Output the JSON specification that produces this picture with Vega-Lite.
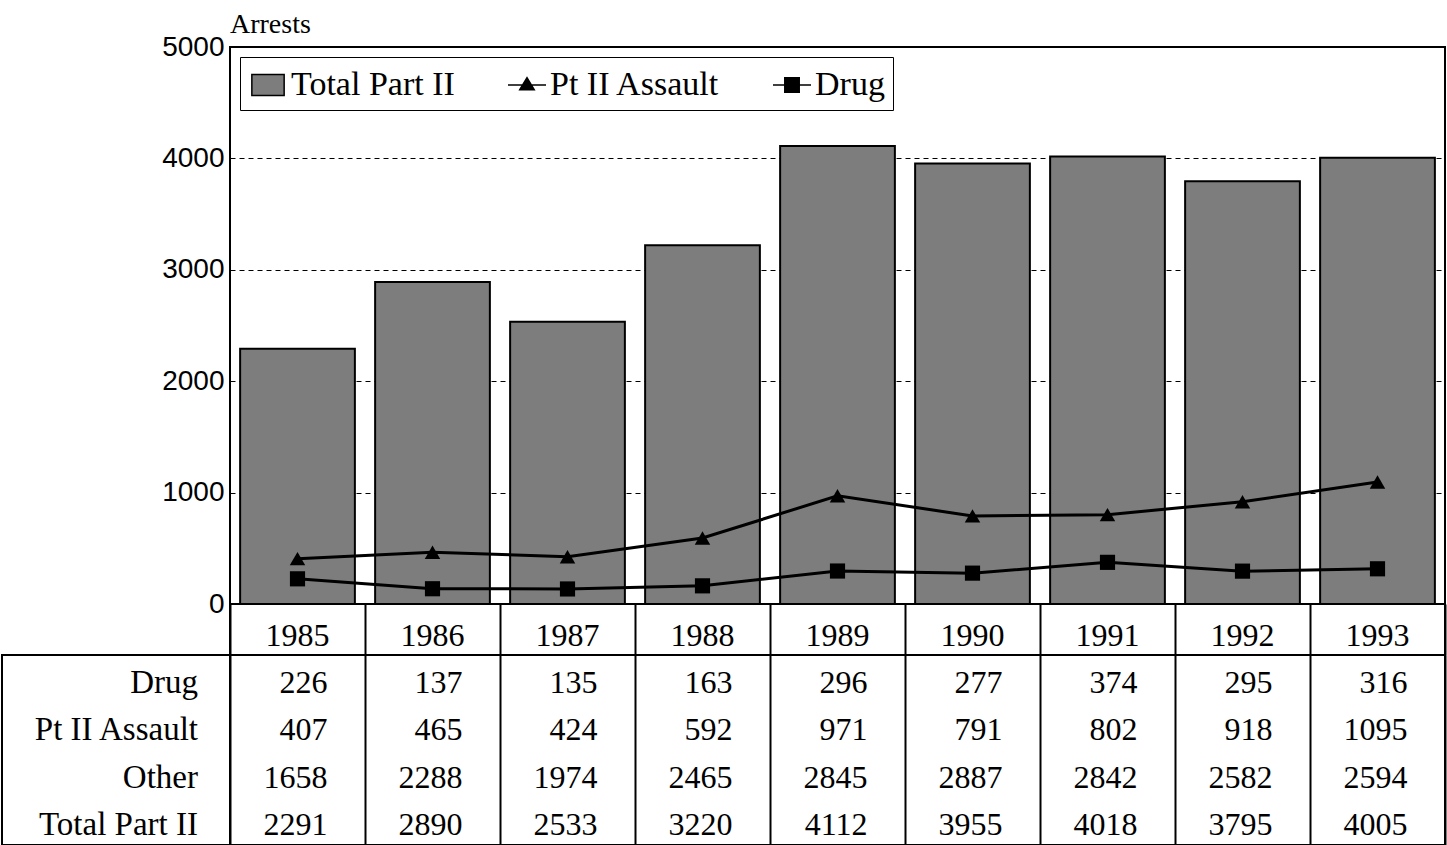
{
  "$schema": "https://vega.github.io/schema/vega-lite/v6.json",
  "background": "white",
  "padding": {"left": 1, "top": 10, "right": 2, "bottom": 0},
  "bounds": "flush",
  "spacing": 0,
  "columns": 2,
  "resolve": {"scale": {"color": "independent"}, "legend": {"color": "independent"}},
  "config": {
    "view": {"stroke": "black", "strokeWidth": 2},
    "font": "Liberation Serif",
    "text": {"font": "Liberation Serif", "fontSize": 32, "color": "black"}
  },
  "datasets": {
    "arrests": [
      {"year": "1985", "Drug": 226, "Pt II Assault": 407, "Other": 1658, "Total Part II": 2291},
      {"year": "1986", "Drug": 137, "Pt II Assault": 465, "Other": 2288, "Total Part II": 2890},
      {"year": "1987", "Drug": 135, "Pt II Assault": 424, "Other": 1974, "Total Part II": 2533},
      {"year": "1988", "Drug": 163, "Pt II Assault": 592, "Other": 2465, "Total Part II": 3220},
      {"year": "1989", "Drug": 296, "Pt II Assault": 971, "Other": 2845, "Total Part II": 4112},
      {"year": "1990", "Drug": 277, "Pt II Assault": 791, "Other": 2887, "Total Part II": 3955},
      {"year": "1991", "Drug": 374, "Pt II Assault": 802, "Other": 2842, "Total Part II": 4018},
      {"year": "1992", "Drug": 295, "Pt II Assault": 918, "Other": 2582, "Total Part II": 3795},
      {"year": "1993", "Drug": 316, "Pt II Assault": 1095, "Other": 2594, "Total Part II": 4005}
    ],
    "rows": [
      {"row": "Drug"},
      {"row": "Pt II Assault"},
      {"row": "Other"},
      {"row": "Total Part II"}
    ]
  },
  "concat": [
    {
      "width": 228, "height": 557,
      "view": {"stroke": null},
      "data": {"values": []},
      "mark": "text",
      "encoding": {}
    },
    {
      "width": 1215, "height": 557,
      "title": {"text": "Arrests", "anchor": "start", "fontSize": 28, "font": "Liberation Serif", "fontWeight": "normal", "offset": -6, "frame": "group", "color": "black"},
      "data": {"name": "arrests"},
      "encoding": {
        "x": {"field": "year", "type": "nominal", "scale": {"paddingInner": 0.15, "paddingOuter": 0.075}, "axis": null}
      },
      "layer": [
        {
          "mark": {"type": "bar", "stroke": "black", "strokeWidth": 2},
          "encoding": {
            "y": {"field": "Total Part II", "type": "quantitative",
              "scale": {"domain": [0, 5000], "nice": false},
              "axis": {"values": [0, 1000, 2000, 3000, 4000, 5000], "format": "d", "title": null, "ticks": false, "domain": false,
                "labelFont": "Liberation Sans", "labelFontSize": 28, "labelColor": "black", "labelPadding": 6,
                "grid": true, "gridColor": "black", "gridDash": [5, 4], "gridWidth": 1}},
            "color": {"datum": "Total Part II", "type": "nominal",
              "scale": {"domain": ["Total Part II", "Pt II Assault", "Drug"], "range": ["#7d7d7d", "black", "black"]},
              "legend": {
                "title": null, "orient": "top-left", "offset": 10, "direction": "horizontal",
                "strokeColor": "black", "fillColor": "white", "padding": 8,
                "labelFont": "Liberation Serif", "labelFontSize": 34, "labelColor": "black", "labelOffset": 3,
                "symbolSize": 1444, "columnPadding": 50, "labelLimit": 400,
                "symbolType": {"expr": "datum.value === 'Total Part II' ? 'M-0.85,-0.55H0.85V0.55H-0.85Z' : datum.value === 'Pt II Assault' ? 'M-1,0H1M-0.38,0.25L0,-0.38L0.38,0.25Z' : 'M-1,0H1M-0.38,-0.38H0.38V0.38H-0.38Z'"},
                "encode": {
                  "legend": {"strokeWidth": {"value": 2}},
                  "symbols": {
                    "fill": {"value": {"expr": "datum.value === 'Total Part II' ? '#7d7d7d' : 'black'"}},
                    "stroke": {"value": "black"},
                    "strokeWidth": {"value": 3},
                    "opacity": {"value": 1}
                  }
                }
              }}
          }
        },
        {
          "mark": {"type": "line", "color": "black", "strokeWidth": 3, "point": {"shape": "triangle-up", "size": 240, "filled": true, "color": "black"}},
          "encoding": {
            "y": {"field": "Pt II Assault", "type": "quantitative"}
          }
        },
        {
          "mark": {"type": "line", "color": "black", "strokeWidth": 3, "point": {"shape": "square", "size": 230, "filled": true, "color": "black"}},
          "encoding": {
            "y": {"field": "Drug", "type": "quantitative"}
          }
        }
      ]
    },
    {
      "width": 228, "height": 51,
      "view": {"stroke": null},
      "data": {"values": []},
      "mark": "text",
      "encoding": {}
    },
    {
      "width": 1215, "height": 51,
      "data": {"name": "arrests"},
      "mark": {"type": "text", "baseline": "middle", "dy": 6},
      "encoding": {
        "x": {"field": "year", "type": "nominal", "scale": {"paddingInner": 0, "paddingOuter": 0},
          "axis": {"title": null, "labels": false, "ticks": false, "domain": false, "grid": true, "tickBand": "extent", "gridColor": "black", "gridWidth": 2, "gridDash": []}},
        "text": {"field": "year"}
      }
    },
    {
      "width": 228, "height": 190,
      "data": {"name": "rows"},
      "mark": {"type": "text", "align": "right", "baseline": "middle", "dx": -32, "dy": 4, "fontSize": 33},
      "encoding": {
        "x": {"value": "width"},
        "y": {"field": "row", "type": "nominal", "sort": ["Drug", "Pt II Assault", "Other", "Total Part II"], "scale": {"paddingInner": 0, "paddingOuter": 0}, "axis": null},
        "text": {"field": "row"}
      }
    },
    {
      "width": 1215, "height": 190,
      "data": {"name": "arrests"},
      "transform": [{"fold": ["Drug", "Pt II Assault", "Other", "Total Part II"], "as": ["cat", "value"]}],
      "mark": {"type": "text", "align": "right", "baseline": "middle", "dx": 30, "dy": 4},
      "encoding": {
        "x": {"field": "year", "type": "nominal", "scale": {"paddingInner": 0, "paddingOuter": 0},
          "axis": {"title": null, "labels": false, "ticks": false, "domain": false, "grid": true, "tickBand": "extent", "gridColor": "black", "gridWidth": 2, "gridDash": []}},
        "y": {"field": "cat", "type": "nominal", "sort": ["Drug", "Pt II Assault", "Other", "Total Part II"], "scale": {"paddingInner": 0, "paddingOuter": 0}, "axis": null},
        "text": {"field": "value", "type": "quantitative", "format": "d"}
      }
    }
  ]
}
